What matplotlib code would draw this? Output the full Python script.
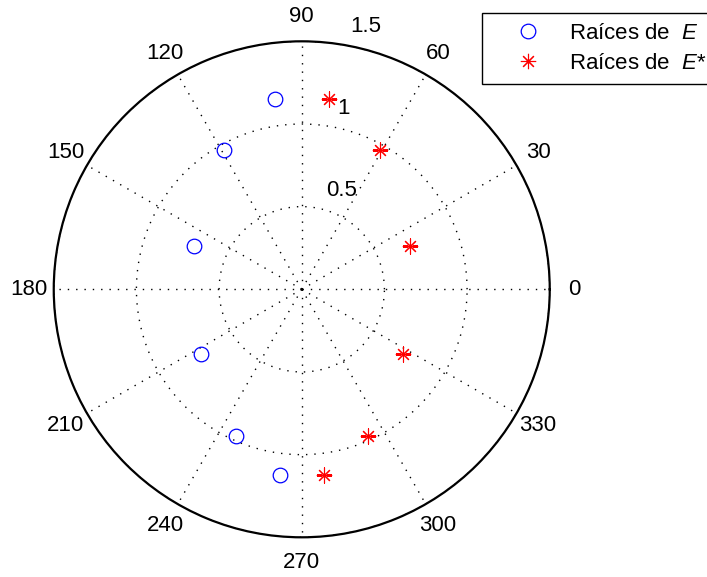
import numpy as np
import matplotlib.pyplot as plt

plt.rcParams['font.family'] = ['Liberation Sans', 'DejaVu Sans']
plt.rcParams['mathtext.fontset'] = 'custom'
plt.rcParams['mathtext.rm'] = 'Liberation Sans'
plt.rcParams['mathtext.it'] = 'Liberation Sans:italic'

# roots (angle in degrees, modulus)
e_ang = [98.1, 119.3, 158.2, 212.6, 245.7, 263.2]
e_mod = [1.161, 0.966, 0.705, 0.725, 0.973, 1.134]
es_ang = [81.9, 60.7, 21.8, 327.4, 294.3, 276.8]
es_mod = [1.161, 0.966, 0.705, 0.725, 0.973, 1.134]

theta_ticks = list(range(0, 360, 30))
r_ticks = [0.5, 1.0, 1.5]
r_tick_labels = ['0.5', '1', '1.5']
# where the radial labels sit (angle deg, radius)
r_label_pos = [(67.8, 0.645), (76.9, 1.125), (76.25, 1.635)]

fig = plt.figure(figsize=(7.07, 5.77), dpi=100)
ax = fig.add_axes([0.0760, 0.0688, 0.7016, 0.8596], projection='polar')

ax.plot(np.deg2rad(e_ang), e_mod, 'o', mfc='none', mec='blue', ms=10.5, mew=0.9,
        label='Raíces de  $E$')
ax.plot(np.deg2rad(es_ang), es_mod, ls='none', marker=(8, 2, 0), color='red',
        ms=11, mew=0.8, label='Raíces de  $E$*')

ax.set_ylim(0, 1.5)
ax.set_rticks(r_ticks)
ax.set_yticklabels([])
ax.set_thetagrids(theta_ticks, [''] * len(theta_ticks))
ax.grid(True, color='black', linestyle=(0, (1, 5)), linewidth=1.0)
ax.spines['polar'].set_linewidth(1.6)
ax.spines['polar'].set_color('black')
ax.tick_params(length=0)

for t in theta_ticks:
    ax.text(np.deg2rad(t), 1.65, str(t), ha='center', va='center', fontsize=16)
for (a, r), lab in zip(r_label_pos, r_tick_labels):
    ax.text(np.deg2rad(a), r, lab, ha='center', va='center', fontsize=16)

leg = fig.legend(loc='upper left', bbox_to_anchor=(482 / 707, 1 - 12.7 / 577),
                 fontsize=16, fancybox=False, framealpha=1, edgecolor='black',
                 handlelength=3.2, handletextpad=0.25, borderpad=0.45,
                 labelspacing=0.43, borderaxespad=0)
leg.get_frame().set_linewidth(1.0)

fig.savefig('out.png', dpi=100)
